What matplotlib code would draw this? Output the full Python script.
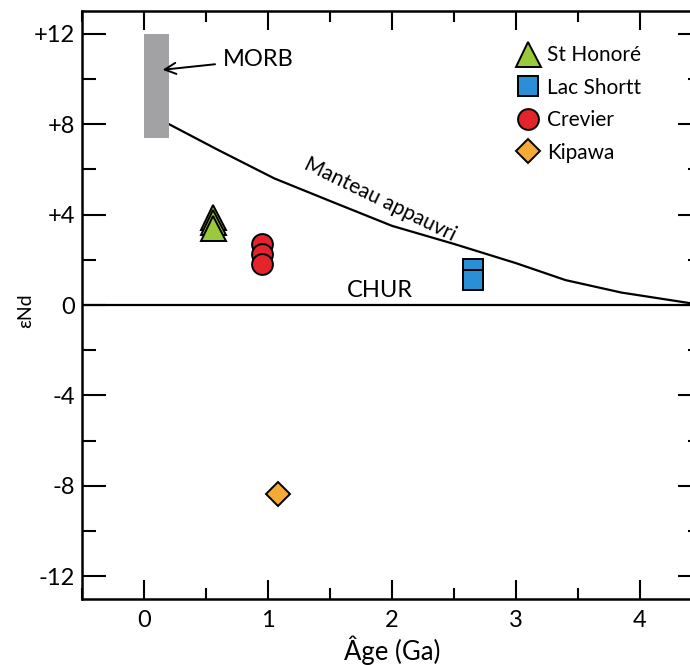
import matplotlib.pyplot as plt
from matplotlib.lines import Line2D
from matplotlib.patches import Rectangle

plt.rcParams['font.family'] = ['Lato', 'DejaVu Sans']

# données
st_honore_age = [0.56, 0.56, 0.56]
st_honore_end = [3.9, 3.65, 3.4]
crevier_age = [0.95, 0.95, 0.95]
crevier_end = [2.7, 2.25, 1.8]
lac_shortt_age = [2.65, 2.65]
lac_shortt_end = [1.6, 1.1]
kipawa_age = [1.08]
kipawa_end = [-8.35]

mantle_age = [0.2, 0.6, 1.05, 1.5, 2.0, 2.5, 3.0, 3.4, 3.85, 4.5]
mantle_end = [8.0, 6.85, 5.6, 4.6, 3.5, 2.7, 1.85, 1.1, 0.55, 0.0]

morb_age = [0.0, 0.2]
morb_end = [7.4, 12.0]

xticks = [0, 1, 2, 3, 4]
yticks = [-12, -8, -4, 0, 4, 8, 12]
ytick_labels = ['-12', '-8', '-4', '0', '+4', '+8', '+12']

series = [
    ('St Honoré', st_honore_age, st_honore_end, '^', '#9bc93c', 18),
    ('Lac Shortt', lac_shortt_age, lac_shortt_end, 's', '#2b8fd6', 14.5),
    ('Crevier', crevier_age, crevier_end, 'o', '#e3242b', 15),
    ('Kipawa', kipawa_age, kipawa_end, 'D', '#f7a935', 12.5),
]


def main():
    fig = plt.figure(figsize=(6.9, 6.65), dpi=100)
    # l'axe droit est coupé par le bord de l'image
    ax = fig.add_axes([82 / 690, 1 - 599 / 665, 620 / 690, 588 / 665])

    ax.set_xlim(-0.5, 4.5)
    ax.set_ylim(-13, 13)

    # MORB
    ax.add_patch(Rectangle((morb_age[0], morb_end[0]), morb_age[1] - morb_age[0],
                           morb_end[1] - morb_end[0], facecolor='#a2a2a4',
                           edgecolor='none', zorder=2))
    ax.annotate('MORB', xy=(0.15, 10.4), xytext=(0.64, 10.85), fontsize=17,
                va='center', ha='left',
                arrowprops=dict(arrowstyle='->', color='black', lw=1.4,
                                mutation_scale=20, shrinkA=4, shrinkB=0))

    # CHUR et manteau appauvri
    ax.axhline(0, color='black', lw=1.6, zorder=1)
    ax.plot(mantle_age, mantle_end, color='black', lw=1.6, zorder=1)
    ax.text(1.9, 0.62, 'CHUR', fontsize=17, ha='center', va='center')
    ax.text(1.9, 4.65, 'Manteau appauvri', fontsize=15, ha='center', va='center',
            rotation=-26)

    handles = []
    for name, ages, vals, marker, color, ms in series:
        for a, v in zip(ages, vals):
            ax.plot([a], [v], marker=marker, ms=ms, color=color,
                    markeredgecolor='black', markeredgewidth=1.4,
                    linestyle='none', zorder=3)
        handles.append(Line2D([], [], marker=marker, ms=ms, color=color,
                              markeredgecolor='black', markeredgewidth=1.4,
                              linestyle='none', label=name))
    ax.legend(handles=handles, loc='upper left', bbox_to_anchor=(0.703, 0.942),
              frameon=False, fontsize=15, handlelength=1.0, handletextpad=0.4,
              labelspacing=0.6, borderpad=0, borderaxespad=0)

    ax.set_xticks(xticks)
    ax.set_xticks([x + 0.5 for x in range(-1, 5)], minor=True)
    ax.set_yticks(yticks)
    ax.set_yticklabels(ytick_labels)
    ax.set_yticks([-10, -6, -2, 2, 6, 10], minor=True)
    ax.tick_params(which='both', direction='in', top=True, right=True,
                   width=1.5, labelsize=17)
    ax.tick_params(axis='y', which='major', length=17, pad=5)
    ax.tick_params(axis='y', which='minor', length=10)
    ax.tick_params(axis='x', which='major', length=14, pad=8)
    ax.tick_params(axis='x', which='minor', length=8)
    for s in ax.spines.values():
        s.set_linewidth(1.8)

    ax.set_xlabel('Âge (Ga)', fontsize=18.5, labelpad=3)
    ax.set_ylabel('εNd', fontsize=14)
    ax.yaxis.set_label_coords(-0.078, 0.49)

    fig.savefig('out.png', dpi=100)


if __name__ == '__main__':
    main()
